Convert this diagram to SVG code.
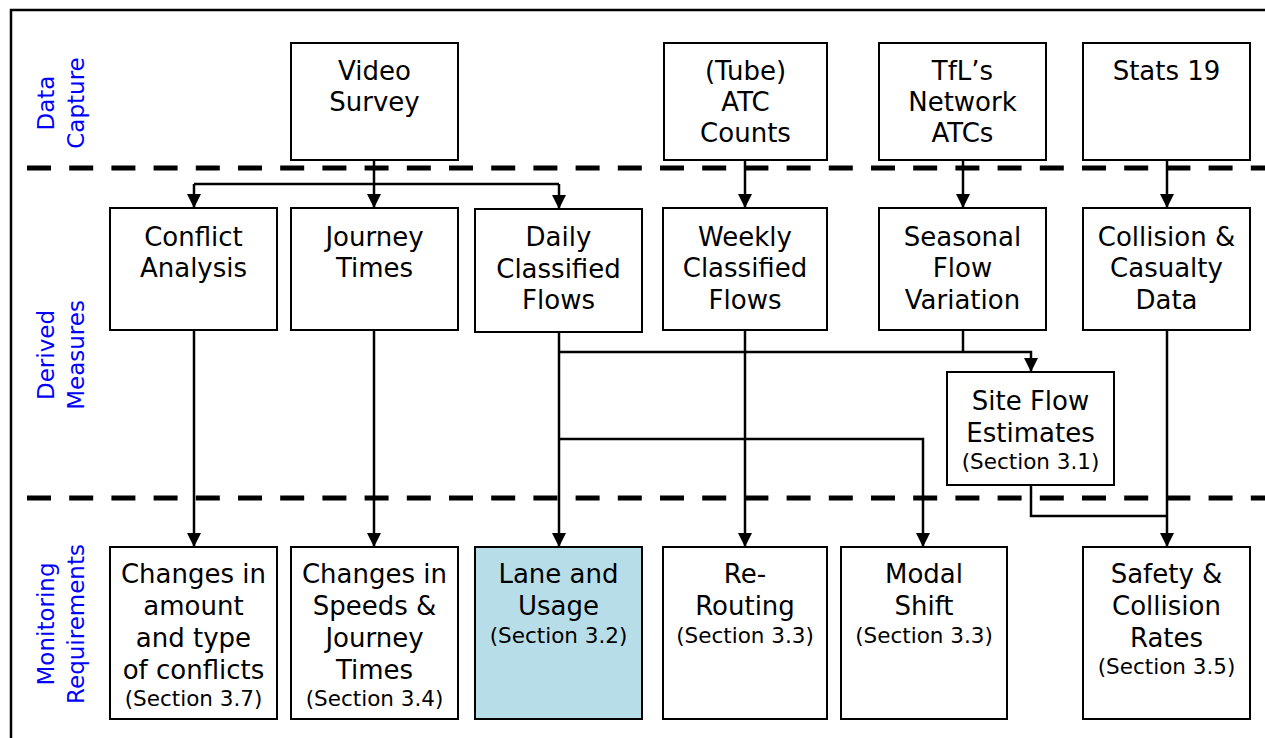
<svg xmlns="http://www.w3.org/2000/svg" width="1265" height="738" viewBox="0 0 1265 738">
<style>
.box{fill:#fff;stroke:#000;stroke-width:2}
.hl{fill:#b7dde8;stroke:#000;stroke-width:2}
.t{font-family:"DejaVu Sans",Verdana,sans-serif;font-size:26px;fill:#000;text-anchor:middle}
.s{font-family:"DejaVu Sans",Verdana,sans-serif;font-size:21.5px;fill:#000;text-anchor:middle}
.lbl{font-family:"DejaVu Sans",Verdana,sans-serif;font-size:23px;fill:#0000ff;text-anchor:middle}
.dash{stroke:#000;stroke-width:5;stroke-dasharray:24 18.2;fill:none}
.c{stroke:#000;stroke-width:2.5;fill:none}
.ca{stroke:#000;stroke-width:2.5;fill:none;marker-end:url(#ah)}
</style>
<defs>
<marker id="ah" markerUnits="userSpaceOnUse" markerWidth="16" markerHeight="16" viewBox="0 0 16 16" refX="8" refY="16" orient="auto-start-reverse">
<path d="M1,1 L15,1 L8,15 Z" fill="#000"/>
</marker>
<marker id="ahd" markerUnits="userSpaceOnUse" markerWidth="16" markerHeight="16" viewBox="0 0 16 16" refX="8" refY="14" orient="0">
<path d="M1,0 L15,0 L8,14 Z" fill="#000"/>
</marker>
</defs>
<rect width="1265" height="738" fill="#fff"/>
<path d="M11,738 V10 H1265" fill="none" stroke="#000" stroke-width="2.5"/>
<g id="separators">
<line class="dash" x1="27" y1="168" x2="1265" y2="168"/>
<line class="dash" x1="27" y1="498" x2="1265" y2="498"/>
</g>
<g id="lane-labels">
<text class="lbl" transform="translate(0,103) rotate(-90)"><tspan x="0" y="54">Data</tspan><tspan x="0" y="84">Capture</tspan></text>
<text class="lbl" transform="translate(0,355) rotate(-90)"><tspan x="0" y="54">Derived</tspan><tspan x="0" y="84">Measures</tspan></text>
<text class="lbl" transform="translate(0,624) rotate(-90)"><tspan x="0" y="54">Monitoring</tspan><tspan x="0" y="84">Requirements</tspan></text>
</g>
<g id="connectors">
<path class="c" d="M374,160 V184"/>
<path class="c" d="M194,184 H559"/>
<path d="M194,184 V208" class="c" marker-end="url(#ahd)"/>
<path d="M374,184 V208" class="c" marker-end="url(#ahd)"/>
<path d="M559,184 V209" class="c" marker-end="url(#ahd)"/>
<path d="M745,160 V208" class="c" marker-end="url(#ahd)"/>
<path d="M963,160 V208" class="c" marker-end="url(#ahd)"/>
<path d="M1167,160 V208" class="c" marker-end="url(#ahd)"/>
<path d="M194,330 V547" class="c" marker-end="url(#ahd)"/>
<path d="M374,330 V547" class="c" marker-end="url(#ahd)"/>
<path d="M559,332 V547" class="c" marker-end="url(#ahd)"/>
<path d="M745,330 V547" class="c" marker-end="url(#ahd)"/>
<path d="M559,352 H1031 V372" class="c" marker-end="url(#ahd)"/>
<path class="c" d="M963,330 V352"/>
<path d="M559,439 H923 V547" class="c" marker-end="url(#ahd)"/>
<path d="M1167,330 V547" class="c" marker-end="url(#ahd)"/>
<path class="c" d="M1031,485 V516 H1167"/>
</g>
<g id="video-survey"><rect class="box" x="291" y="43" width="167" height="117"/><text class="t"><tspan x="374.5" y="80">Video</tspan><tspan x="374.5" y="111">Survey</tspan></text></g>
<g id="tube-atc"><rect class="box" x="664" y="43" width="163" height="117"/><text class="t"><tspan x="745.5" y="80">(Tube)</tspan><tspan x="745.5" y="111">ATC</tspan><tspan x="745.5" y="142">Counts</tspan></text></g>
<g id="tfl-atcs"><rect class="box" x="879" y="43" width="167" height="117"/><text class="t"><tspan x="962.5" y="80">TfL’s</tspan><tspan x="962.5" y="111">Network</tspan><tspan x="962.5" y="142">ATCs</tspan></text></g>
<g id="stats19"><rect class="box" x="1083" y="43" width="167" height="117"/><text class="t"><tspan x="1166.5" y="80">Stats 19</tspan></text></g>
<g id="conflict-analysis"><rect class="box" x="110" y="208" width="167" height="122"/><text class="t"><tspan x="193.5" y="246">Conflict</tspan><tspan x="193.5" y="277">Analysis</tspan></text></g>
<g id="journey-times"><rect class="box" x="291" y="208" width="167" height="122"/><text class="t"><tspan x="374.5" y="246">Journey</tspan><tspan x="374.5" y="277">Times</tspan></text></g>
<g id="daily-flows"><rect class="box" x="475" y="209" width="167" height="123"/><text class="t"><tspan x="558.5" y="246">Daily</tspan><tspan x="558.5" y="277.5">Classified</tspan><tspan x="558.5" y="309">Flows</tspan></text></g>
<g id="weekly-flows"><rect class="box" x="663" y="208" width="164" height="122"/><text class="t"><tspan x="745" y="245.5">Weekly</tspan><tspan x="745" y="277">Classified</tspan><tspan x="745" y="308.5">Flows</tspan></text></g>
<g id="seasonal"><rect class="box" x="879" y="208" width="167" height="122"/><text class="t"><tspan x="962.5" y="245.5">Seasonal</tspan><tspan x="962.5" y="277">Flow</tspan><tspan x="962.5" y="308.5">Variation</tspan></text></g>
<g id="collision-data"><rect class="box" x="1083" y="208" width="167" height="122"/><text class="t"><tspan x="1166.5" y="245.5">Collision &amp;</tspan><tspan x="1166.5" y="277">Casualty</tspan><tspan x="1166.5" y="308.5">Data</tspan></text></g>
<g id="site-flow"><rect class="box" x="947" y="372" width="167" height="113"/><text class="t"><tspan x="1030.5" y="410">Site Flow</tspan><tspan x="1030.5" y="441.5">Estimates</tspan></text><text class="s" x="1030.5" y="469">(Section 3.1)</text></g>
<g id="changes-conflicts"><rect class="box" x="110" y="547" width="167" height="172"/><text class="t"><tspan x="193.5" y="583">Changes in</tspan><tspan x="193.5" y="615">amount</tspan><tspan x="193.5" y="647">and type</tspan><tspan x="193.5" y="679">of conflicts</tspan></text><text class="s" x="193.5" y="706">(Section 3.7)</text></g>
<g id="changes-speeds"><rect class="box" x="291" y="547" width="167" height="172"/><text class="t"><tspan x="374.5" y="583">Changes in</tspan><tspan x="374.5" y="615">Speeds &amp;</tspan><tspan x="374.5" y="647">Journey</tspan><tspan x="374.5" y="679">Times</tspan></text><text class="s" x="374.5" y="706">(Section 3.4)</text></g>
<g id="lane-usage"><rect class="hl" x="475" y="547" width="167" height="172"/><text class="t"><tspan x="558.5" y="583">Lane and</tspan><tspan x="558.5" y="615">Usage</tspan></text><text class="s" x="558.5" y="643">(Section 3.2)</text></g>
<g id="re-routing"><rect class="box" x="663" y="547" width="164" height="172"/><text class="t"><tspan x="745" y="583">Re-</tspan><tspan x="745" y="615">Routing</tspan></text><text class="s" x="745" y="643">(Section 3.3)</text></g>
<g id="modal-shift"><rect class="box" x="841" y="547" width="166" height="172"/><text class="t"><tspan x="924" y="583">Modal</tspan><tspan x="924" y="615">Shift</tspan></text><text class="s" x="924" y="643">(Section 3.3)</text></g>
<g id="safety-rates"><rect class="box" x="1083" y="547" width="167" height="172"/><text class="t"><tspan x="1166.5" y="583">Safety &amp;</tspan><tspan x="1166.5" y="615">Collision</tspan><tspan x="1166.5" y="647">Rates</tspan></text><text class="s" x="1166.5" y="674">(Section 3.5)</text></g>
</svg>
